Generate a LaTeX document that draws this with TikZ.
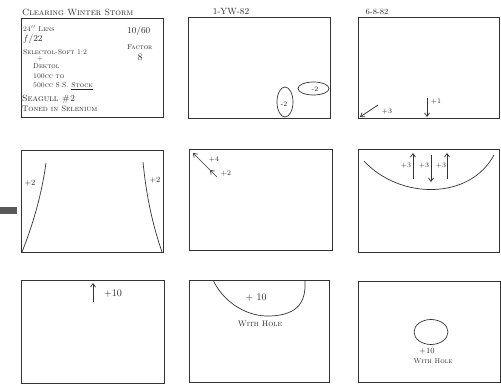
\documentclass[tikz,border=0pt]{standalone}
\usetikzlibrary{arrows.meta}
\tikzset{
  frame/.style={draw=black!80, line width=0.9pt},
  sketch/.style={draw=black!80, line width=0.7pt},
  tag/.style={font=\scriptsize, inner sep=0pt, text=black!85},
  note/.style={font=\scriptsize\scshape, inner sep=0pt, text=black!85, anchor=west},
  >={Straight Barb[length=3.5pt,width=5pt]}
}
\begin{document}
\begin{tikzpicture}[x=1pt, y=-1pt]
  \useasboundingbox (0,0) rectangle (501,385);

  \foreach \p/\xa/\ya/\xb/\yb in {A/21/18/163/117, B/188/17/330/118, C/358/17/499/118,
      D/21/150/163/252, E/189/149/332/250, F/358/149/499/252,
      G/21/280/164/383, H/189/280/329/382, I/358/281/500/382}
    \draw[frame] (\xa,\ya) coordinate (\p1) rectangle (\xb,\yb) coordinate (\p2);

  \fill[black!65] (0,207) rectangle (17,214);

  \node[note, font=\small\scshape] (title) at (22,12) {Clearing Winter Storm};
  \node[note] (lens) at (23,29) {24$''$ Lens};
  \node[note, font=\small] (stop) at (23,39) {$f$/22};
  \node[note] (soft) at (23,52) {Selectol-Soft 1:2};
  \node[note] (plus) at (37,59) {+};
  \node[note] (dektol) at (33,66) {Dektol};
  \node[note] (mix) at (33,76) {100cc to};
  \node[note] (stock) at (33,86) {500cc S.S. \underline{Stock}};
  \node[note, font=\small\scshape] (paper) at (22,99) {Seagull \#2};
  \node[note, font=\footnotesize\scshape] (toned) at (22,109) {Toned in Selenium};
  \node[note, font=\small] (time) at (127,31) {10/60};
  \node[note] (factor) at (127,47) {Factor};
  \node[tag, font=\normalsize] (eight) at (140,57) {8};

  \node[tag, font=\small] (dateb) at (231,12) {1-YW-82};
  \node[tag, font=\footnotesize] (datec) at (377,12) {6-8-82};

  \draw[sketch] (313.5,88.5) ellipse (15.5 and 6.5);
  \node[tag] (minusa) at (315,89) {-2};
  \draw[sketch] (285,102) ellipse (8 and 15);
  \node[tag] (minusb) at (284,104) {-2};

  \coordinate (c1) at (378,105);
  \coordinate (c2) at (360,117);
  \coordinate (c3) at (427,98);
  \coordinate (c4) at (427,117);
  \draw[sketch, ->] (c1) -- (c2);
  \draw[sketch, ->] (c3) -- (c4);
  \node[tag] at (387,112) {+3};
  \node[tag] at (436,102) {+1};

  \draw[sketch] (22,252) .. controls (34,222) and (42,192) .. (46,163);
  \draw[sketch] (162,252) .. controls (151,220) and (146,192) .. (143,162);
  \node[tag, font=\footnotesize] at (30,183) {+2};
  \node[tag, font=\footnotesize] at (155,180) {+2};

  \coordinate (e1) at (193,153);
  \coordinate (e2) at (210,170);
  \coordinate (e3) at (217,177);
  \draw[sketch, ->] (e2) -- (e1);
  \draw[sketch, ->] (e3) -- (e2);
  \node[tag] at (214,160) {+4};
  \node[tag] at (226,174) {+2};

  \draw[sketch] (364,161) .. controls (400,200) and (470,200) .. (494,155);
  \foreach \x/\ya/\yb in {413/179/153, 431/155/182, 447/179/153}
    \draw[sketch, ->] (\x,\ya) -- (\x,\yb);
  \foreach \x in {406,424,441}
    \node[tag] at (\x,166) {+3};

  \draw[sketch, ->] (93,302) -- (93,283);
  \node[tag, font=\normalsize] at (113,294) {+10};

  \draw[sketch] (213,280) .. controls (225,305) and (250,317) .. (270,316)
    .. controls (300,315) and (306,300) .. (305,280);
  \node[tag, font=\normalsize] at (256,298) {+ 10};
  \node[tag, font=\footnotesize\scshape] at (260,324) {With Hole};

  \draw[sketch] (431,332) ellipse (17 and 12.5);
  \node[tag, font=\footnotesize] at (427,351) {+10};
  \node[tag, font=\scriptsize\scshape] at (433,361) {With Hole};
\end{tikzpicture}
\end{document}
